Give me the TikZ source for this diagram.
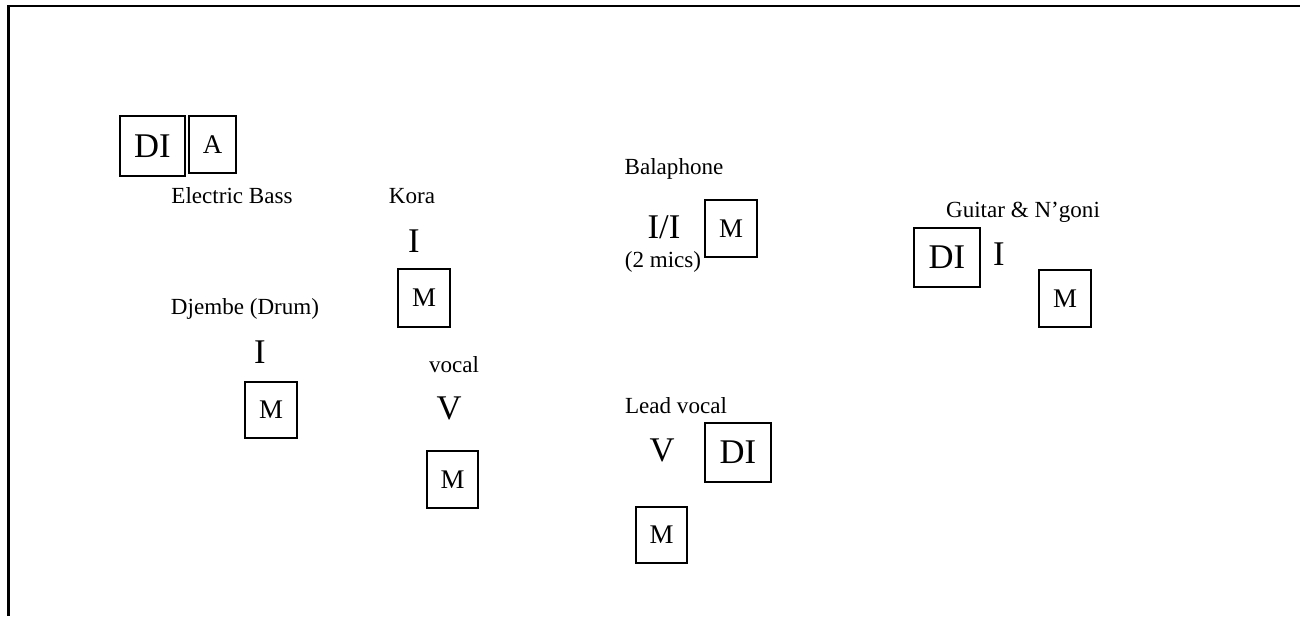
\documentclass[tikz,border=0pt]{standalone}
\usepackage{fontspec}
\setmainfont{Liberation Serif}
\newcommand{\fsmall}{\fontsize{12}{14}\selectfont}
\newcommand{\fmid}{\fontsize{14}{16}\selectfont}
\newcommand{\fbig}{\fontsize{18}{21}\selectfont}
\newcommand{\bx}[7]{%
  \node[box, font=#7, minimum width={(#4-#2)*0.52pt}, minimum height={(#5-#3)*0.52pt}]
    (#1) at ({(#2+#4)/2},{(#3+#5)/2}) {#6};}
\tikzset{
  box/.style={draw, line width=1pt, inner sep=0pt, anchor=center},
  lab/.style={inner sep=0pt, anchor=base, font=\fsmall},
  big/.style={inner sep=0pt, anchor=base, font=\fbig},
}
\begin{document}
\begin{tikzpicture}[x=0.52pt, y=-0.52pt]
\useasboundingbox (0,0) rectangle (1300,616);
\coordinate (fa) at (1300,6);
\coordinate (fb) at (8.5,6);
\coordinate (fc) at (8.5,616);
\draw[line width=1.3pt] (fa) -- (fb) -- (fc);

% Electric Bass
\bx{bassDI}{120}{116}{185}{176}{DI}{\fbig}
\bx{bassA}{189}{116}{236}{173}{A}{\fmid}
\node[lab] (bass) at (232,203) {Electric Bass};

% Kora
\node[lab] (kora) at (412,203) {Kora};
\node[big] (koraI) at (414,252) {I};
\bx{koraM}{398}{269}{450}{327}{M}{\fmid}

% Djembe
\node[lab] (djembe) at (245,314) {Djembe (Drum)};
\node[big] (djembeI) at (260,363) {I};
\bx{djembeM}{245}{382}{297}{438}{M}{\fmid}

% vocal
\node[lab] (vocal) at (454,372) {vocal};
\node[big] (vocalV) at (449,419) {V};
\bx{vocalM}{427}{451}{478}{508}{M}{\fmid}

% Balaphone
\node[lab] (bala) at (674,174) {Balaphone};
\node[big] (balaI) at (664,238) {I/I};
\node[lab] (balamics) at (663,267) {(2 mics)};
\bx{balaM}{705}{200}{757}{257}{M}{\fmid}

% Lead vocal
\node[lab] (lead) at (676,413) {Lead vocal};
\node[big] (leadV) at (662,461) {V};
\bx{leadDI}{705}{423}{771}{482}{DI}{\fbig}
\bx{leadM}{636}{507}{687}{563}{M}{\fmid}

% Guitar & N'goni
\node[lab] (guitar) at (1023,217) {Guitar \& N’goni};
\bx{guitarDI}{914}{228}{980}{287}{DI}{\fbig}
\node[big] (guitarI) at (999,265) {I};
\bx{guitarM}{1039}{270}{1091}{327}{M}{\fmid}
\end{tikzpicture}
\end{document}
